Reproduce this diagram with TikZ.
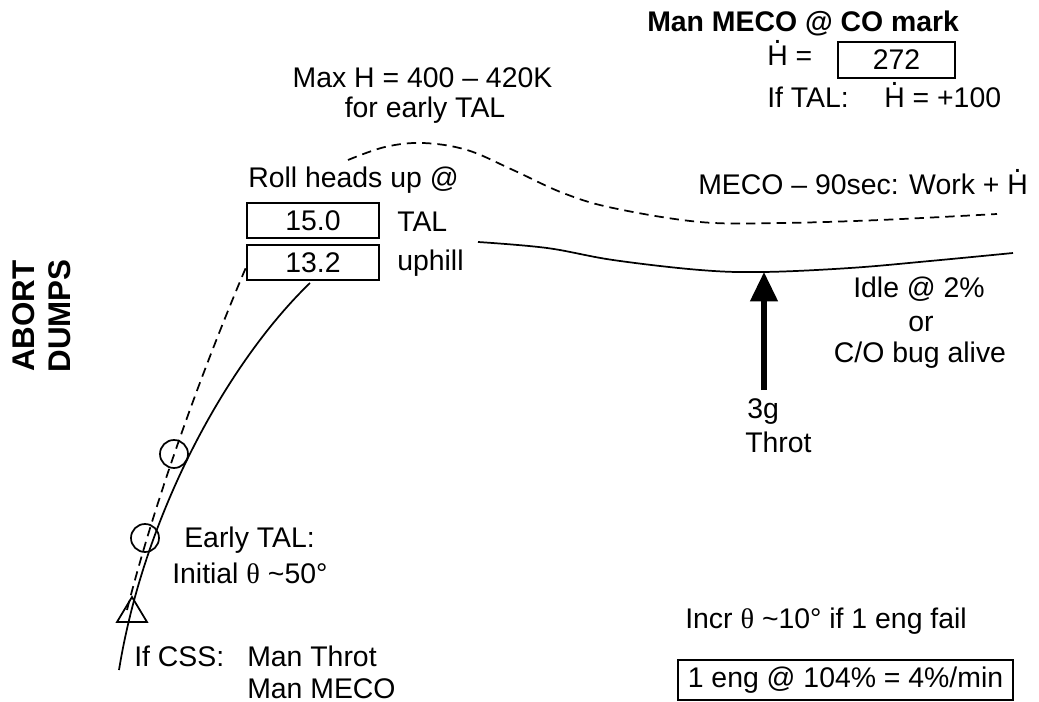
\documentclass[tikz,border=0pt]{standalone}
\usepackage{fontspec}
\setmainfont{Liberation Sans}
\newfontfamily\thetafont{Liberation Serif}
\usetikzlibrary{arrows.meta}
\newcommand\Hdot{\ooalign{H\cr\hidewidth\raisebox{0.8em}{.}\hidewidth\cr}}
\newcommand\thet{{\thetafont θ}}
\begin{document}
\begin{tikzpicture}[x=0.75pt,y=-0.75pt,
  every node/.style={font=\fontsize{21.3}{25}\selectfont, inner sep=0pt},
  lbl/.style={anchor=base west},
  clbl/.style={anchor=base},
  valbox/.style={draw, line width=1.4pt, minimum width=99pt, minimum height=26.25pt},
  boldtxt/.style={font=\fontsize{21.3}{25}\selectfont\bfseries},
  vert/.style={font=\fontsize{23.5}{28}\selectfont\bfseries, rotate=90},
  traj/.style={line width=1.3pt},
  dashtraj/.style={line width=1.3pt, dash pattern=on 7pt off 4.5pt},
  marker/.style={draw, circle, line width=1.3pt, minimum size=21pt}]
\useasboundingbox (0,0) rectangle (1039,702);

% top right block
\node[lbl, boldtxt] (title) at (647,32) {Man MECO @ CO mark};
\node[lbl] (hdotA) at (767,66) {\Hdot\ =};
\node[valbox, minimum width=87.75pt, minimum height=27pt] (box272) at (896.5,60) {272};
\node[lbl] (iftal) at (767,108) {If TAL:};
\node[lbl] (hdotB) at (884,108) {\Hdot\ = +100};

% max H
\node[clbl] (maxh) at (422.5,88) {Max H = 400 – 420K};
\node[clbl] (forearly) at (425,118) {for early TAL};

% roll heads up
\node[lbl] (roll) at (248,188) {Roll heads up @};
\node[valbox] (box15) at (313,220.5) {15.0};
\node[valbox] (box13) at (313,262.5) {13.2};
\node[lbl] (tal) at (397,232) {TAL};
\node[lbl] (uphill) at (397,271) {uphill};

% right side
\node[lbl] (meco90) at (698,195) {MECO – 90sec: Work + \Hdot};
\node[clbl] (idle) at (919,298) {Idle @ 2\%};
\node[clbl] (or) at (921,332) {or};
\node[clbl] (cobug) at (920,363) {C/O bug alive};
\node[lbl] (g3) at (747,418) {3g};
\node[lbl] (throt) at (745,452) {Throt};

% bottom right
\node[lbl] (incr) at (685,628) {Incr \thet\ \textasciitilde10° if 1 eng fail};
\node[draw, line width=1.4pt, minimum width=251pt, minimum height=30pt] (boxeng) at (845.5,680) {1 eng @ 104\% = 4\%/min};

% left texts
\node[lbl] (earlytal) at (184,547) {Early TAL:};
\node[lbl] (initial) at (172,583) {Initial \thet\ \textasciitilde50°};
\node[lbl] (ifcss) at (134,666) {If CSS:};
\node[lbl] (manthrot) at (247,666) {Man Throt};
\node[lbl] (manmeco) at (247,698) {Man MECO};

\node[vert] (abort) at (24,316) {ABORT};
\node[vert] (dumps) at (60,316) {DUMPS};

% trajectories
\draw[traj] (119,670) .. controls (145,510) and (230,360) .. (310,283);
\draw[dashtraj] (127,610) .. controls (160,480) and (215,340) .. (247,265);
\draw[dashtraj] plot[smooth, tension=0.6] coordinates {(348,160) (385,147) (423,143) (467,150) (513,170) (563,193) (613,208) (700,222) (780,223) (880,220) (997,214)};
\draw[traj] plot[smooth, tension=0.6] coordinates {(478,242) (547,248) (613,260) (700,270) (763,272) (850,268) (930,261) (1013,253)};

% markers
\node[marker] (circA) at (174,454) {};
\node[marker] (circB) at (145,538) {};
\draw[line width=1.3pt, line join=miter] (132,597) -- (117,622) -- (147,622) -- cycle;

% arrow
\coordinate (arrbase) at (764,390);
\coordinate (arrtip) at (764,272);
\draw[line width=4pt, -{Triangle[length=22pt,width=20pt]}] (arrbase) -- (arrtip);
\end{tikzpicture}
\end{document}
